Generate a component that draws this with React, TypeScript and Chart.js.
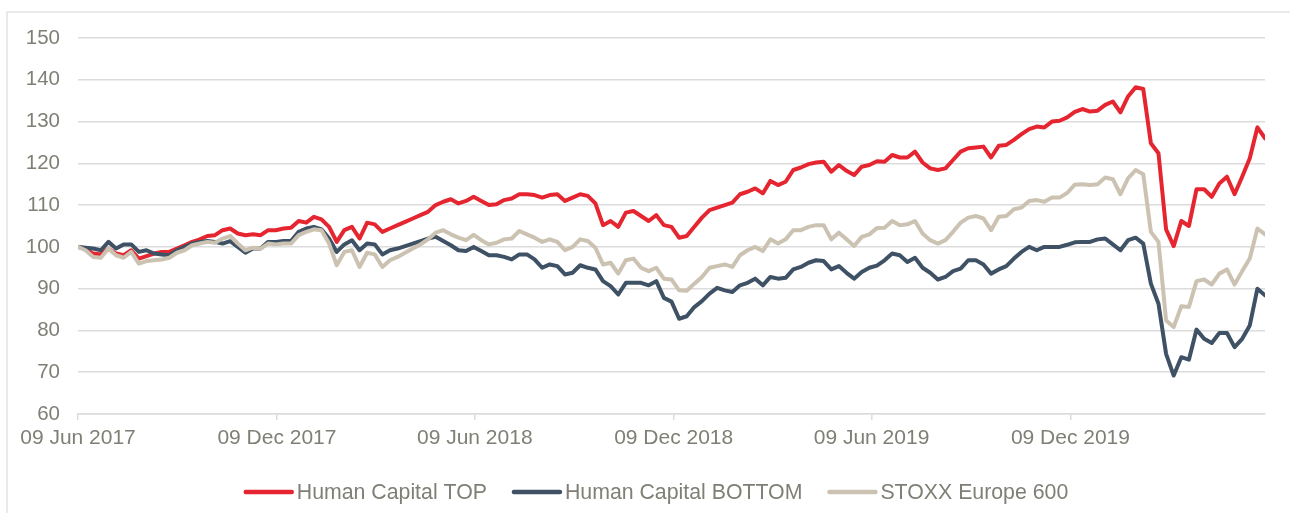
import { useEffect, useRef } from 'react';
import { Chart, registerables } from 'chart.js';

Chart.register(...registerables);

// ---- data ----
const startDate = '2017-06-09'; // weekly observations (Fridays)
const seriesNames = ['Human Capital TOP', 'Human Capital BOTTOM', 'STOXX Europe 600'];
const tickDates = ['2017-06-09', '2017-12-09', '2018-06-09', '2018-12-09', '2019-06-09', '2019-12-09'];
const tickLabels = ['09 Jun 2017', '09 Dec 2017', '09 Jun 2018', '09 Dec 2018', '09 Jun 2019', '09 Dec 2019'];
const yTicks = [60, 70, 80, 90, 100, 110, 120, 130, 140, 150];

const humanCapitalTop = [
  100, 99.6, 98.4, 98.2, 99.6, 98.4, 98, 99.2, 97.2, 97.8,
  98.4, 98.8, 98.8, 99.6, 100.4, 101.2, 101.8, 102.6, 102.8, 104,
  104.4, 103.2, 102.8, 103, 102.8, 104, 104, 104.4, 104.6, 106.2,
  105.8, 107.2, 106.6, 104.8, 101.2, 104, 104.8, 102, 105.8, 105.4,
  103.6, 104.4, 105.2, 106, 106.8, 107.6, 108.4, 110, 110.8, 111.4,
  110.4, 111, 112, 111, 110, 110.2, 111.2, 111.6, 112.6, 112.6,
  112.4, 111.8, 112.4, 112.6, 111, 111.8, 112.6, 112.2, 110.4, 105.2,
  106.2, 104.8, 108.2, 108.6, 107.4, 106.2, 107.6, 105.2, 104.8, 102.2,
  102.6, 104.8, 107, 108.8, 109.4, 110, 110.6, 112.6, 113.2, 114,
  112.8, 115.8, 114.8, 115.6, 118.4, 119, 119.8, 120.2, 120.4, 118,
  119.6, 118.2, 117.2, 119.2, 119.6, 120.5, 120.4, 122, 121.4, 121.4,
  122.8, 120.2, 118.8, 118.4, 118.8, 120.8, 122.8, 123.6, 123.8, 124,
  121.4, 124.2, 124.4, 125.6, 127, 128.2, 128.8, 128.6, 130, 130.2,
  131, 132.3, 133, 132.4, 132.6, 134, 134.8, 132.2, 136, 138.2,
  137.8, 124.8, 122.4, 104.2, 100.2, 106.2, 105, 113.8, 113.8, 112,
  115.2, 116.8, 112.6, 116.8, 121.2, 128.6, 126,
];

const humanCapitalBottom = [
  100, 99.8, 99.6, 99.2, 101.2, 99.6, 100.6, 100.6, 98.8, 99.2,
  98.4, 98.2, 98, 99.2, 100, 100.8, 101.2, 101.4, 101.2, 100.8,
  101.4, 100, 98.6, 99.6, 99.6, 101.2, 101.2, 101.4, 101.4, 103.6,
  104.4, 104.8, 104.2, 102, 98.8, 100.6, 101.6, 99.2, 100.8, 100.6,
  98.2, 99.2, 99.6, 100.2, 100.8, 101.4, 102, 102.4, 101.4, 100.4,
  99.2, 99, 100, 99, 98, 98, 97.6, 97, 98.2, 98.2,
  97, 95, 95.8, 95.4, 93.4, 93.8, 95.6, 95, 94.6, 91.8,
  90.6, 88.6, 91.4, 91.4, 91.4, 90.8, 91.8, 87.8, 86.9, 82.8,
  83.4, 85.6, 87, 88.8, 90.2, 89.6, 89.2, 90.8, 91.4, 92.4,
  90.8, 92.8, 92.4, 92.6, 94.6, 95.2, 96.2, 96.8, 96.6, 94.6,
  95.4, 93.8, 92.4, 94, 95, 95.5, 96.8, 98.4, 98, 96.4,
  97.4, 95, 93.8, 92.2, 92.8, 94.2, 94.8, 96.8, 96.8, 95.8,
  93.6, 94.6, 95.4, 97.2, 98.8, 100, 99.2, 100, 100, 100,
  100.5, 101.1, 101.2, 101.2, 101.8, 102, 100.6, 99.2, 101.6, 102.2,
  100.8, 91.2, 86.4, 74.4, 69.2, 73.6, 73, 80.2, 78, 77,
  79.4, 79.4, 76, 78, 81.2, 90, 88.4,
];

const stoxxEurope600 = [
  100, 99.2, 97.6, 97.4, 99.6, 98, 97.4, 98.8, 96, 96.6,
  96.8, 97, 97.4, 98.6, 99.2, 100.4, 100.8, 101.2, 101, 102,
  102.6, 100.8, 99.2, 99.8, 99.6, 100.8, 100.6, 100.8, 100.8, 102.8,
  103.6, 104.2, 104, 100.8, 95.6, 98.8, 99.2, 95.2, 98.6, 98.2,
  95.2, 96.8, 97.6, 98.6, 99.6, 100.6, 101.8, 103.4, 104, 103,
  102.2, 101.6, 102.9, 101.6, 100.6, 101, 101.8, 102, 103.8, 103,
  102.2, 101.2, 101.8, 101.2, 99.2, 100, 101.8, 101.4, 99.8, 95.8,
  96.2, 93.6, 96.8, 97.2, 95, 94.2, 95, 92.4, 92.2, 89.6,
  89.5, 91.2, 92.8, 95, 95.4, 95.8, 95.2, 98, 99.2, 100,
  99, 101.8, 100.8, 101.8, 104, 104, 104.8, 105.2, 105.2, 101.8,
  103.4, 101.8, 100.2, 102.4, 103, 104.5, 104.6, 106.2, 105.2, 105.4,
  106.2, 103.2, 101.6, 100.8, 101.6, 103.6, 105.8, 107, 107.4, 106.8,
  104, 107.2, 107.4, 109, 109.4, 111, 111.2, 110.8, 111.8, 111.8,
  112.9, 114.9, 115, 114.8, 115, 116.6, 116.2, 112.6, 116.4, 118.4,
  117.4, 103.6, 101.2, 82.4, 80.8, 85.8, 85.6, 91.8, 92.2, 91,
  93.6, 94.6, 91, 94.2, 97.2, 104.4, 103,
];

// ---- styles ----
const seriesColors = ['#e52630', '#3e5165', '#cbc2b2'];
const textColor = '#7f7f76';
const gridColor = '#dcdcdc';
const fontFamily = '"Liberation Sans", Arial, sans-serif';

const DAY = 86400000;
const dayOffset = (d: string) => Math.round((Date.parse(d) - Date.parse(startDate)) / DAY);
const tickDays = tickDates.map(dayOffset);

function toPoints(values: number[]) {
  return values.map((v, i) => ({ x: i * 7, y: v }));
}

const framePlugin = {
  id: 'frame',
  beforeDraw(chart: any) {
    const ctx = chart.ctx;
    ctx.save();
    ctx.strokeStyle = '#e4e4e4';
    ctx.lineWidth = 1.5;
    ctx.beginPath();
    ctx.moveTo(7, chart.height + 5);
    ctx.lineTo(7, 12);
    ctx.lineTo(chart.width + 5, 12);
    ctx.stroke();
    ctx.restore();
  },
};

const legendPlugin = {
  id: 'customLegend',
  afterDraw(chart: any) {
    const ctx = chart.ctx;
    ctx.save();
    ctx.font = `21.3px ${fontFamily}`;
    const sample = 50;
    const gap = 3;
    const itemGap = 25;
    const items = chart.data.datasets.map((ds: any) => ({
      text: ds.label as string,
      color: ds.borderColor as string,
      w: ctx.measureText(ds.label).width,
    }));
    const total =
      items.reduce((s: number, it: any) => s + sample + gap + it.w, 0) + itemGap * (items.length - 1);
    let x = 656 - total / 2;
    const y = 492;
    for (const it of items) {
      ctx.strokeStyle = it.color;
      ctx.lineWidth = 4.5;
      ctx.lineCap = 'round';
      ctx.beginPath();
      ctx.moveTo(x + 2, y);
      ctx.lineTo(x + sample - 2, y);
      ctx.stroke();
      x += sample + gap;
      ctx.fillStyle = textColor;
      ctx.textBaseline = 'middle';
      ctx.textAlign = 'left';
      ctx.fillText(it.text, x, y + 1);
      x += it.w + itemGap;
    }
    ctx.restore();
  },
};

export default function App() {
  const ref = useRef<HTMLCanvasElement | null>(null);

  useEffect(() => {
    if (!ref.current) return;
    const lastDay = (humanCapitalTop.length - 1) * 7;
    const seriesValues = [humanCapitalTop, humanCapitalBottom, stoxxEurope600];
    const chart = new Chart(ref.current, {
      type: 'line',
      data: {
        datasets: seriesNames.map((name, i) => ({
          label: name,
          data: toPoints(seriesValues[i]),
          borderColor: seriesColors[i],
          backgroundColor: seriesColors[i],
          borderWidth: 4,
          pointRadius: 0,
          tension: 0,
          borderJoinStyle: 'round' as const,
          borderCapStyle: 'round' as const,
          order: 3 - i,
        })),
      },
      options: {
        responsive: false,
        animation: false,
        events: [],
        layout: { padding: { left: 0, right: 25, top: 38, bottom: 0 } },
        plugins: {
          legend: { display: false },
          tooltip: { enabled: false },
        },
        scales: {
          x: {
            type: 'linear',
            min: 0,
            max: lastDay,
            afterBuildTicks: (scale: any) => {
              scale.ticks = tickDays.map((v) => ({ value: v }));
            },
            afterFit: (scale: any) => {
              scale.height = 99;
            },
            ticks: {
              autoSkip: false,
              maxRotation: 0,
              padding: 6,
              color: textColor,
              font: { family: fontFamily, size: 21 },
              callback: (value: any) => {
                const idx = tickDays.indexOf(Number(value));
                return idx >= 0 ? tickLabels[idx] : '';
              },
            },
            grid: {
              drawOnChartArea: false,
              drawTicks: true,
              tickLength: 6,
              color: gridColor,
              lineWidth: 1.5,
            },
            border: { display: true, color: gridColor, width: 1.5 },
          },
          y: {
            min: 60,
            max: 150,
            afterBuildTicks: (scale: any) => {
              scale.ticks = yTicks.map((v) => ({ value: v }));
            },
            afterFit: (scale: any) => {
              scale.width = 78;
            },
            ticks: {
              padding: 18,
              color: textColor,
              font: { family: fontFamily, size: 20.5 },
            },
            grid: { color: gridColor, lineWidth: 1.5, drawTicks: false },
            border: { display: false },
          },
        },
      },
      plugins: [framePlugin, legendPlugin],
    });
    return () => chart.destroy();
  }, []);

  return (
    <div style={{ position: 'absolute', left: 0, top: 0, width: 1290, height: 513, background: '#fff' }}>
      <canvas ref={ref} width={1290} height={513} style={{ display: 'block', width: 1290, height: 513 }} />
    </div>
  );
}
